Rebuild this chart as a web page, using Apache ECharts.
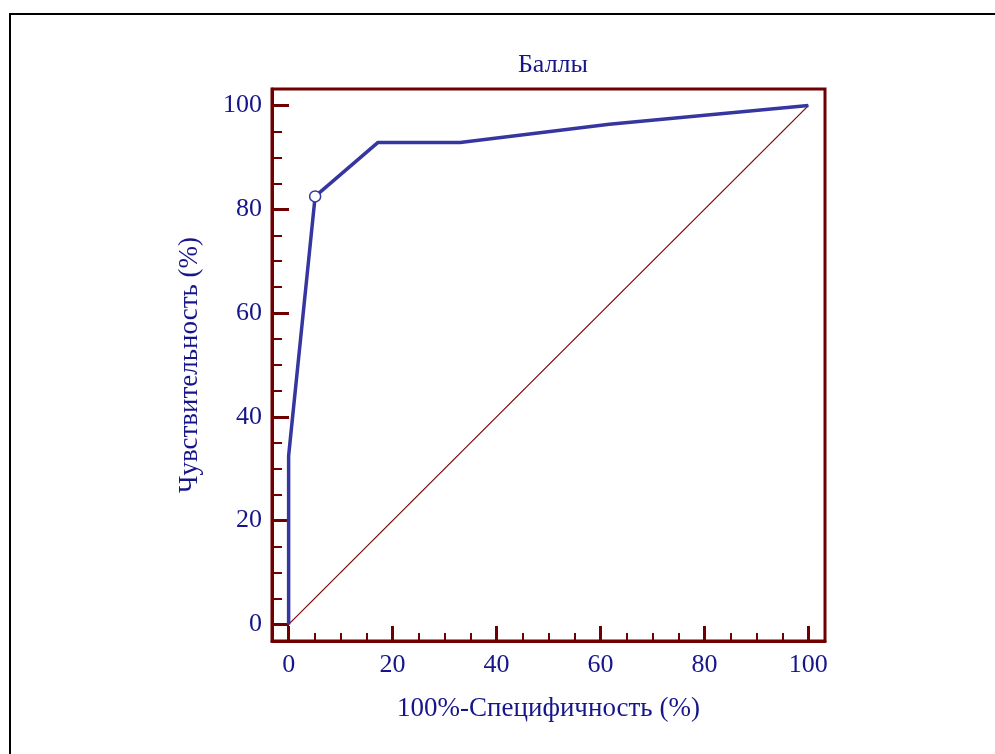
<!DOCTYPE html>
<html>
<head>
<meta charset="utf-8">
<script src="https://cdn.jsdelivr.net/npm/echarts@6/dist/echarts.min.js"></script>
<style>
html,body{margin:0;padding:0;background:#fff;}
#chart{width:995px;height:754px;}
</style>
</head>
<body>
<div id="chart"></div>
<script>
// ---- data ----
var rocX = [0, 0, 5.1, 17.2, 33.0, 61.7, 100];       // 100%-Specificity
var rocY = [0, 32.5, 82.5, 92.9, 92.9, 96.4, 100];    // Sensitivity
var cutX = [5.1];
var cutY = [82.5];
var diagX = [0, 100];
var diagY = [0, 100];
var majorTicks = [0, 20, 40, 60, 80, 100];
var minorTicks = [5, 10, 15, 25, 30, 35, 45, 50, 55, 65, 70, 75, 85, 90, 95];
var titleText = 'Баллы';
var xName = '100%-Специфичность (%)';
var yName = 'Чувствительность (%)';

var AXIS = '#700000';
var TEXT = '#16168a';
var CURVE = '#3636a0';
var FONT = '"Liberation Serif", "Times New Roman", serif';
var FS = 26;
var FSN = 27;
var MIN = -3.2, MAX = 103.2;

function zip(a, b) { return a.map(function (v, i) { return [v, b[i]]; }); }

function mainAxis(isX, name) {
  return {
    type: 'value', min: MIN, max: MAX,
    position: isX ? 'bottom' : 'left',
    name: name, nameLocation: 'middle', nameGap: isX ? 54 : 69,
    nameTextStyle: { color: TEXT, fontFamily: FONT, fontSize: FSN },
    axisLine: { show: true, onZero: false, lineStyle: { color: AXIS, width: 3 } },
    axisTick: { show: true, inside: true, length: isX ? 15 : 17, customValues: majorTicks,
                lineStyle: { color: AXIS, width: 3 } },
    axisLabel: { show: true, customValues: majorTicks, color: TEXT, fontFamily: FONT,
                 fontSize: FS, margin: isX ? 11 : 10 },
    splitLine: { show: false }
  };
}
function minorAxis(isX) {
  return {
    type: 'value', min: MIN, max: MAX,
    position: isX ? 'bottom' : 'left',
    axisLine: { show: false, onZero: false },
    axisTick: { show: true, inside: true, length: isX ? 8 : 10, customValues: minorTicks,
                lineStyle: { color: AXIS, width: 2 } },
    axisLabel: { show: false },
    splitLine: { show: false }
  };
}

var chart = echarts.init(document.getElementById('chart'), null, { renderer: 'canvas' });
chart.setOption({
  animation: false,
  backgroundColor: '#fff',
  title: {
    text: titleText, left: 548, top: 47, textAlign: 'center',
    textStyle: { color: TEXT, fontFamily: FONT, fontSize: FS, fontWeight: 'normal' }
  },
  graphic: [{
    type: 'rect', shape: { x: 10, y: 14, width: 1100, height: 900 },
    style: { fill: 'none', stroke: '#000', lineWidth: 2 }, z: 100, silent: true
  }],
  grid: {
    left: 272, top: 89, width: 553, height: 552,
    show: true, borderColor: AXIS, borderWidth: 3, backgroundColor: 'transparent'
  },
  xAxis: [mainAxis(true, xName), minorAxis(true)],
  yAxis: [mainAxis(false, yName), minorAxis(false)],
  series: [
    {
      type: 'line', data: zip(diagX, diagY), showSymbol: false, symbol: 'none',
      lineStyle: { color: '#800000', width: 1.2 }, z: 2
    },
    {
      type: 'line', data: zip(rocX, rocY), showSymbol: false, symbol: 'none',
      lineStyle: { color: CURVE, width: 3.5 }, z: 3
    },
    {
      type: 'scatter', data: zip(cutX, cutY), symbol: 'circle', symbolSize: 11,
      itemStyle: { color: '#fff', borderColor: CURVE, borderWidth: 1.5, opacity: 1 }, z: 4
    }
  ]
});
</script>
</body>
</html>
